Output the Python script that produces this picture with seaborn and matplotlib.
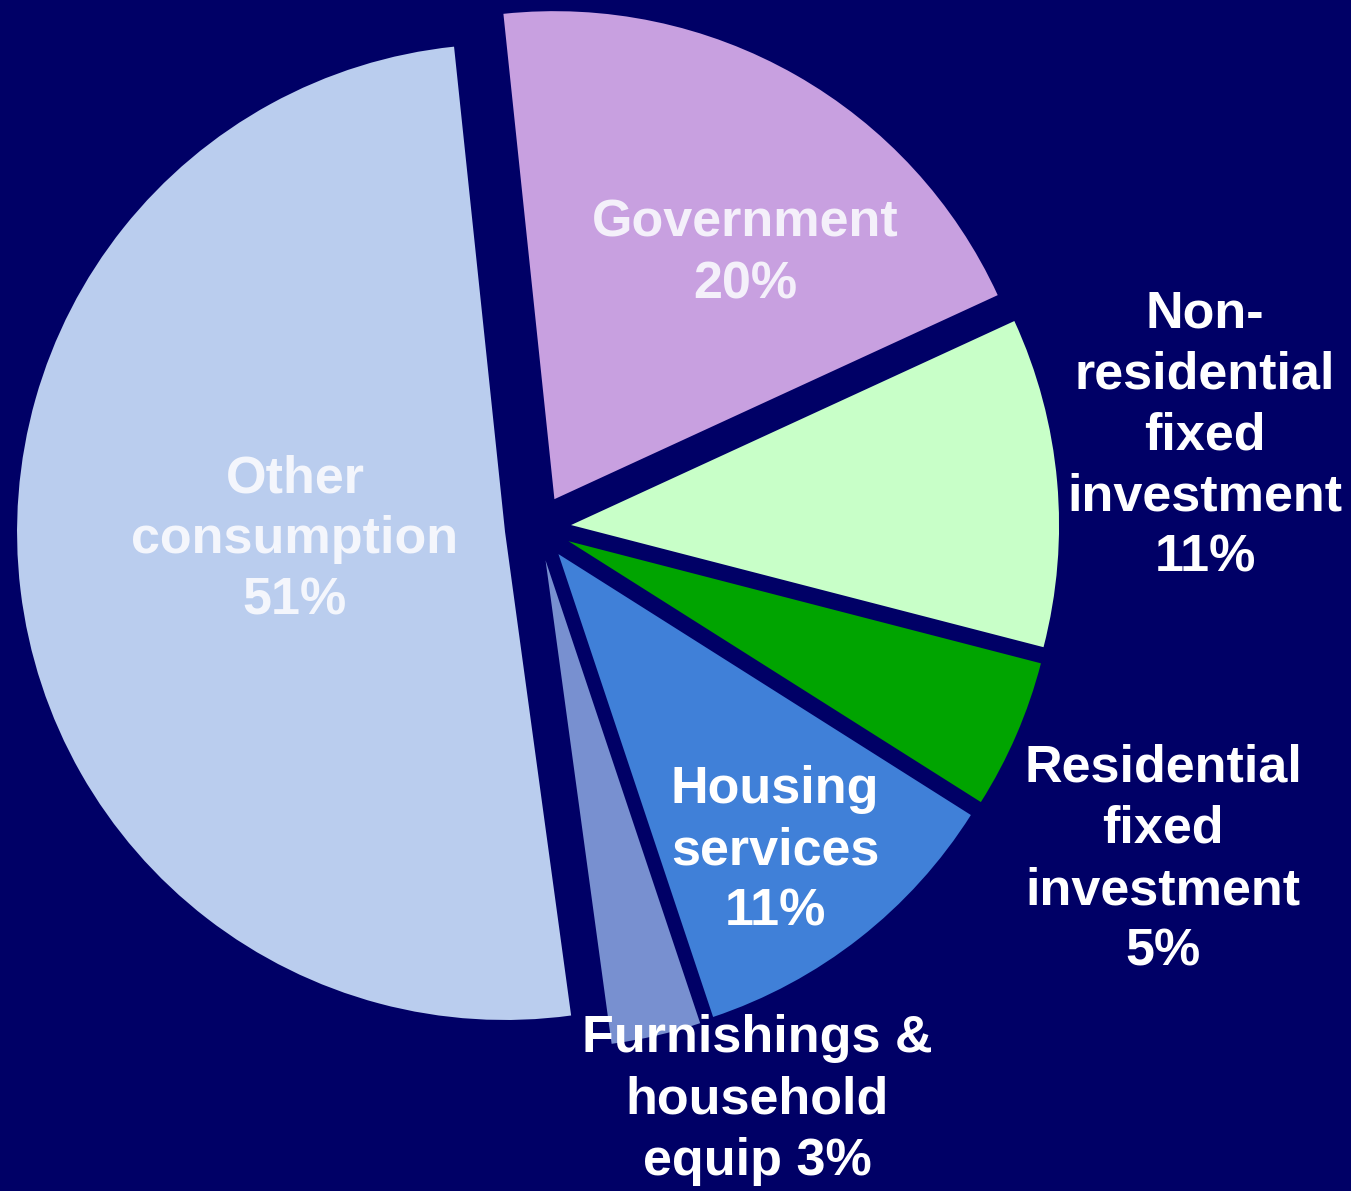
import matplotlib
matplotlib.use('Agg')
import matplotlib.pyplot as plt
import seaborn as sns

# Shares of spending (as labelled on the chart, clockwise from the top)
sectors = ['Government', 'Non-residential fixed investment', 'Residential fixed investment',
           'Housing services', 'Furnishings & household equip', 'Other consumption']
shares = [20, 11, 5, 11, 3, 51]
label_text = ['Government\n20%', 'Non-\nresidential\nfixed\ninvestment\n11%',
              'Residential\nfixed\ninvestment\n5%', 'Housing\nservices\n11%',
              'Furnishings &\nhousehold\nequip 3%', 'Other\nconsumption\n51%']
slice_colors = ['#C8A0E0', '#C8FFC8', '#00A400', '#4080D8', '#7890D0', '#BACDEE']
text_colors = ['#F4F0FA', 'white', 'white', 'white', 'white', '#F4F6FC']

# layout (pixel positions of label centres in the 1351x1191 image)
W, H = 1351, 1191
cx, cy, rad = 538, 528, 488
label_px = [(745, 254), (1205, 436), (1163, 860), (775, 851), (757, 1100), (295, 540)]

bg = '#000066'
sns.set_style('white')
plt.rcParams['font.family'] = ['Liberation Sans', 'DejaVu Sans']

fig = plt.figure(figsize=(W / 100, H / 100), dpi=100, facecolor=bg)
ax = fig.add_axes([0, 0, 1, 1])
ax.set_facecolor(bg)

ax.pie(shares, colors=slice_colors, startangle=96, counterclock=False,
       explode=[0.068] * len(shares), wedgeprops=dict(linewidth=0))

for txt, col, (px, py) in zip(label_text, text_colors, label_px):
    ax.text((px - cx) / rad, (cy - py) / rad, txt, color=col, fontsize=37.5,
            fontweight='bold', ha='center', va='center', linespacing=1.32)

ax.set_xlim(-cx / rad, (W - cx) / rad)
ax.set_ylim(-(H - cy) / rad, cy / rad)
ax.set_aspect('auto')
ax.axis('off')

fig.savefig('out.png', dpi=100, facecolor=bg)
